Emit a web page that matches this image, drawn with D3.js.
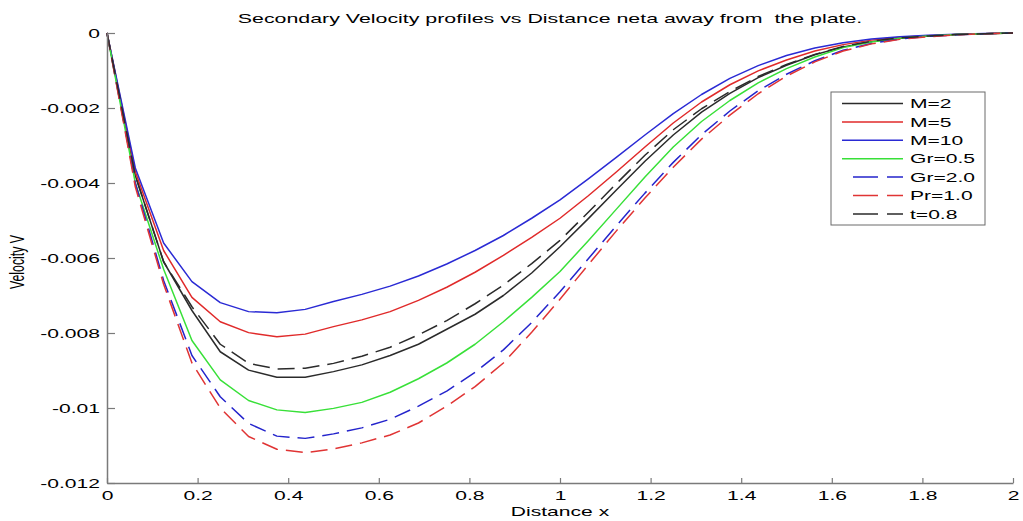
<!DOCTYPE html>
<html>
<head>
<meta charset="utf-8">
<script src="https://cdn.jsdelivr.net/npm/d3@7"></script>
<style>
  html, body { margin: 0; padding: 0; background: #fff; }
  svg { display: block; }
  text { font-family: "Liberation Sans", Arial, Helvetica, sans-serif; fill: #000; }
</style>
</head>
<body>
<svg id="chart" width="1023" height="521"></svg>
<script>
// ---------------- DATA ----------------
const xValues = [0, 0.0625, 0.125, 0.1875, 0.25, 0.3125, 0.375, 0.4375, 0.5, 0.5625, 0.625, 0.6875,
  0.75, 0.8125, 0.875, 0.9375, 1.0, 1.0625, 1.125, 1.1875, 1.25, 1.3125, 1.375, 1.4375,
  1.5, 1.5625, 1.625, 1.6875, 1.75, 1.8125, 1.875, 1.9375, 2.0];

const seriesNames = ["M=2", "M=5", "M=10", "Gr=0.5", "Gr=2.0", "Pr=1.0", "t=0.8"];

const M2 = [0, -0.0038, -0.0061, -0.0074, -0.0085, -0.00899, -0.00918, -0.00918, -0.00903, -0.00885, -0.0086, -0.0083,
  -0.0079, -0.0075, -0.0070, -0.0064, -0.0057, -0.00495, -0.00418, -0.00342, -0.00272, -0.00211, -0.00161, -0.00119,
  -0.00086, -0.00058, -0.00037, -0.00023, -0.00014, -0.00008, -0.00004, -0.00002, 0];
const M5 = [0, -0.0037, -0.0058, -0.00705, -0.0077, -0.00799, -0.0081, -0.00803, -0.00783, -0.00765, -0.00743, -0.00713,
  -0.00678, -0.00638, -0.00593, -0.00545, -0.00494, -0.00434, -0.0037, -0.00304, -0.0024, -0.00184, -0.00138, -0.00101,
  -0.00072, -0.00048, -0.00031, -0.00019, -0.00011, -0.00007, -0.00004, -0.00002, 0];
const M10 = [0, -0.0036, -0.0056, -0.00663, -0.00719, -0.00743, -0.00746, -0.00737, -0.00716, -0.00697, -0.00675, -0.00648,
  -0.00616, -0.0058, -0.0054, -0.00494, -0.00445, -0.00389, -0.00331, -0.00272, -0.00215, -0.00164, -0.00121, -0.00087,
  -0.0006, -0.0004, -0.00026, -0.00016, -0.0001, -0.00006, -0.00003, -0.00001, 0];
const Gr05 = [0, -0.004, -0.0063, -0.0082, -0.00925, -0.0098, -0.01005, -0.01012, -0.01001, -0.00985, -0.00958, -0.00922,
  -0.0088, -0.0083, -0.0077, -0.00705, -0.00636, -0.00554, -0.00469, -0.00384, -0.00304, -0.00236, -0.0018, -0.00133,
  -0.00095, -0.00064, -0.00039, -0.00024, -0.00014, -0.00008, -0.00004, -0.00002, 0];
const Gr20 = [0, -0.004, -0.0066, -0.0086, -0.0097, -0.01041, -0.01075, -0.01081, -0.01069, -0.01053, -0.0103, -0.00995,
  -0.00955, -0.00905, -0.00845, -0.00772, -0.0069, -0.00602, -0.00513, -0.00427, -0.00345, -0.00271, -0.00208, -0.00154,
  -0.0011, -0.00074, -0.00046, -0.00028, -0.00016, -0.00009, -0.00005, -0.00002, 0];
const Pr10 = [0, -0.0041, -0.0067, -0.0088, -0.0100, -0.01076, -0.0111, -0.01119, -0.01109, -0.01093, -0.01072, -0.0104,
  -0.00995, -0.00943, -0.0088, -0.00798, -0.0071, -0.00618, -0.00527, -0.0044, -0.00358, -0.00283, -0.00219, -0.00162,
  -0.00115, -0.00077, -0.00048, -0.00029, -0.00017, -0.0001, -0.00005, -0.00002, 0];
const t08 = [0, -0.0038, -0.0061, -0.0073, -0.0083, -0.00881, -0.00896, -0.00894, -0.00881, -0.00862, -0.00838, -0.00805,
  -0.00767, -0.00722, -0.00672, -0.00615, -0.00553, -0.00478, -0.00401, -0.00326, -0.00258, -0.00202, -0.00156, -0.00116,
  -0.00084, -0.00057, -0.00036, -0.00022, -0.00013, -0.00008, -0.00004, -0.00002, 0];

const seriesValues = [M2, M5, M10, Gr05, Gr20, Pr10, t08];

const xTickValues = [0, 0.2, 0.4, 0.6, 0.8, 1, 1.2, 1.4, 1.6, 1.8, 2];
const xTickLabels = ["0", "0.2", "0.4", "0.6", "0.8", "1", "1.2", "1.4", "1.6", "1.8", "2"];
const yTickValues = [0, -0.002, -0.004, -0.006, -0.008, -0.01, -0.012];
const yTickLabels = ["0", "-0.002", "-0.004", "-0.006", "-0.008", "-0.01", "-0.012"];

const titleText = "Secondary Velocity profiles vs Distance neta away from  the plate.";
const xLabelText = "Distance x";
const yLabelText = "Velocity V";

// ---------------- STYLE ----------------
const colors = ["#2b2b2b", "#e02a2a", "#2a2ad4", "#38e038", "#2424cc", "#e03434", "#2b2b2b"];
const dashes = [null, null, null, null, "17,8", "17,8", "17,8"];
const SX = 1.62;            // horizontal stretch of the reference's text
const axisColor = "#7a7a7a";

// ---------------- DRAW ----------------
const svg = d3.select("#chart");
const pLeft = 107, pRight = 1013, pTop = 33, pBottom = 483;

const x = d3.scaleLinear().domain([0, 2]).range([pLeft, pRight]);
const y = d3.scaleLinear().domain([-0.012, 0]).range([pBottom, pTop]);

// plot lines
const line = d3.line().x((d, i) => x(xValues[i])).y(d => y(d));
const lines = svg.append("g");
seriesValues.forEach((vals, k) => {
  lines.append("path")
    .datum(vals)
    .attr("d", line)
    .attr("fill", "none")
    .attr("stroke", colors[k])
    .attr("stroke-width", 1.5)
    .attr("stroke-linejoin", "round")
    .attr("stroke-dasharray", dashes[k]);
});

// axes
const xAxis = d3.axisBottom(x).tickValues(xTickValues)
  .tickFormat((d, i) => xTickLabels[i]).tickSizeInner(-5).tickSizeOuter(0).tickPadding(8);
const gx = svg.append("g").attr("transform", `translate(0,${pBottom})`).call(xAxis);
gx.select(".domain").attr("stroke", axisColor).attr("stroke-width", 1.5);
gx.selectAll(".tick line").attr("stroke", axisColor).attr("stroke-width", 1.2);
gx.selectAll(".tick text")
  .attr("font-size", 13).attr("fill", "#000")
  .attr("font-family", '"Liberation Sans", Arial, sans-serif')
  .attr("transform", `scale(${SX},1)`);

const yAxis = d3.axisLeft(y).tickValues(yTickValues)
  .tickFormat((d, i) => yTickLabels[i]).tickSizeInner(-8).tickSizeOuter(0).tickPadding(0);
const gy = svg.append("g").attr("transform", `translate(${pLeft},0)`).call(yAxis);
gy.select(".domain").attr("stroke", axisColor).attr("stroke-width", 1.5);
gy.selectAll(".tick line").attr("stroke", axisColor).attr("stroke-width", 1.2);
gy.selectAll(".tick text")
  .attr("font-size", 13).attr("fill", "#000")
  .attr("font-family", '"Liberation Sans", Arial, sans-serif')
  .attr("x", -7 / SX)
  .attr("transform", `scale(${SX},1)`);

// title
svg.append("text")
  .attr("transform", `translate(550,23) scale(${SX},1)`)
  .attr("text-anchor", "middle")
  .attr("font-size", 13.2)
  .style("white-space", "pre")
  .text(titleText);

// axis labels
svg.append("text")
  .attr("transform", `translate(${(pLeft + pRight) / 2},516) scale(${SX},1)`)
  .attr("text-anchor", "middle")
  .attr("font-size", 13)
  .text(xLabelText);

svg.append("text")
  .attr("transform", `translate(24,${(pTop + pBottom) / 2 + 4}) scale(${SX},1) rotate(-90)`)
  .attr("text-anchor", "middle")
  .attr("font-size", 12.3)
  .text(yLabelText);

// legend
const lg = svg.append("g");
lg.append("rect")
  .attr("x", 831).attr("y", 92).attr("width", 154).attr("height", 133)
  .attr("fill", "#fff").attr("stroke", "#6a6a6a").attr("stroke-width", 1);
seriesNames.forEach((name, k) => {
  const ry = 103.5 + k * 18.4;
  if (dashes[k]) {
    lg.append("line").attr("x1", 853).attr("x2", 903).attr("y1", ry).attr("y2", ry)
      .attr("stroke", colors[k]).attr("stroke-width", 1.5).attr("stroke-dasharray", "25,9");
  } else {
    lg.append("line").attr("x1", 842).attr("x2", 903).attr("y1", ry).attr("y2", ry)
      .attr("stroke", colors[k]).attr("stroke-width", 1.5);
  }
  lg.append("text")
    .attr("transform", `translate(910,${ry + 4.6}) scale(${SX},1)`)
    .attr("font-size", 13)
    .text(name);
});
</script>
</body>
</html>
